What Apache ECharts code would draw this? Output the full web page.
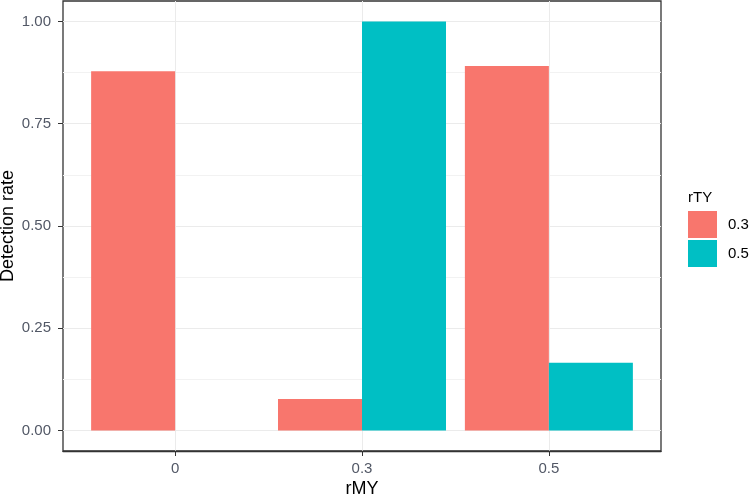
<!DOCTYPE html>
<html>
<head>
<meta charset="utf-8">
<script src="https://cdn.jsdelivr.net/npm/echarts@6/dist/echarts.min.js"></script>
<style>
  html, body { margin: 0; padding: 0; background: #fff; }
  #chart { width: 750px; height: 498px; }
</style>
</head>
<body>
<div id="chart"></div>
<script>
// rMY groups on the x axis, rTY groups in the legend
var categories = ["0", "0.3", "0.5"];
var rTY03 = [0.878, 0.077, 0.891];
var rTY05 = [0, 1.0, 0.166];
var yTicks = [0, 0.25, 0.5, 0.75, 1.0];
var yMinor = [0.125, 0.375, 0.625, 0.875];

var catPos = categories.map(function (c, i) { return i + 1; });

function toPairs(vals) {
  return vals.map(function (v, i) { return [catPos[i], v]; });
}

var chart = echarts.init(document.getElementById("chart"));
var font = "Liberation Sans, Arial, sans-serif";
var labelColor = "#525866";

var option = {
  animation: false,
  textStyle: { fontFamily: font },
  title: {
    text: "rTY",
    left: 683,
    top: 185,
    textStyle: { fontSize: 15, fontWeight: "normal", color: "#000", fontFamily: font }
  },
  legend: {
    orient: "vertical",
    left: 683,
    top: 206,
    itemWidth: 29,
    itemHeight: 27,
    itemGap: 2,
    icon: "rect",
    data: ["0.3", "0.5"],
    textStyle: { fontSize: 15, color: "#000", fontFamily: font, padding: [0, 0, 0, 6] }
  },
  grid: {
    left: 63, right: 89, top: 1, bottom: 47,
    outerBoundsMode: "none",
    containLabel: false,
    show: true, borderColor: "#333", borderWidth: 1.3
  },
  xAxis: [{
    type: "value",
    min: 0.4, max: 3.6,
    name: "rMY",
    nameLocation: "middle",
    nameGap: 29,
    nameMoveOverlap: false,
    nameTextStyle: { fontSize: 18, color: "#000" },
    axisLine: { show: true, onZero: false, lineStyle: { color: "#333", width: 1.3 } },
    axisTick: { show: true, length: 5, customValues: catPos, lineStyle: { color: "#333" } },
    axisLabel: {
      customValues: catPos, fontSize: 15, color: labelColor, margin: 10,
      formatter: function (v) { return categories[Math.round(v) - 1]; }
    },
    splitLine: { show: true, lineStyle: { color: "#ebebeb", width: 1 } }
  }],
  yAxis: [{
    type: "value",
    min: -0.05, max: 1.05,
    name: "Detection rate",
    nameLocation: "middle",
    nameGap: 46,
    nameMoveOverlap: false,
    nameTextStyle: { fontSize: 18, color: "#000" },
    axisLine: { show: false, onZero: false },
    axisTick: { show: true, length: 5, customValues: yTicks, lineStyle: { color: "#333" } },
    axisLabel: {
      customValues: yTicks, fontSize: 15, color: labelColor, margin: 12,
      formatter: function (v) { return v.toFixed(2); }
    },
    splitLine: { show: true, lineStyle: { color: "#ebebeb", width: 1 } }
  }, {
    type: "value",
    min: -0.05, max: 1.05,
    position: "left",
    axisLine: { show: false, onZero: false },
    axisTick: { show: false, customValues: yMinor },
    axisLabel: { show: false, customValues: yMinor },
    splitLine: { show: true, lineStyle: { color: "#f2f2f2", width: 1 } }
  }],
  series: [{
    name: "0.3",
    type: "bar",
    data: toPairs(rTY03),
    barWidth: 84,
    barGap: "0%",
    itemStyle: { color: "#F8766D" },
    z: 3
  }, {
    name: "0.5",
    type: "bar",
    data: toPairs(rTY05),
    barWidth: 84,
    barGap: "0%",
    itemStyle: { color: "#00BFC4" },
    z: 3
  }]
};

chart.setOption(option);
</script>
</body>
</html>
